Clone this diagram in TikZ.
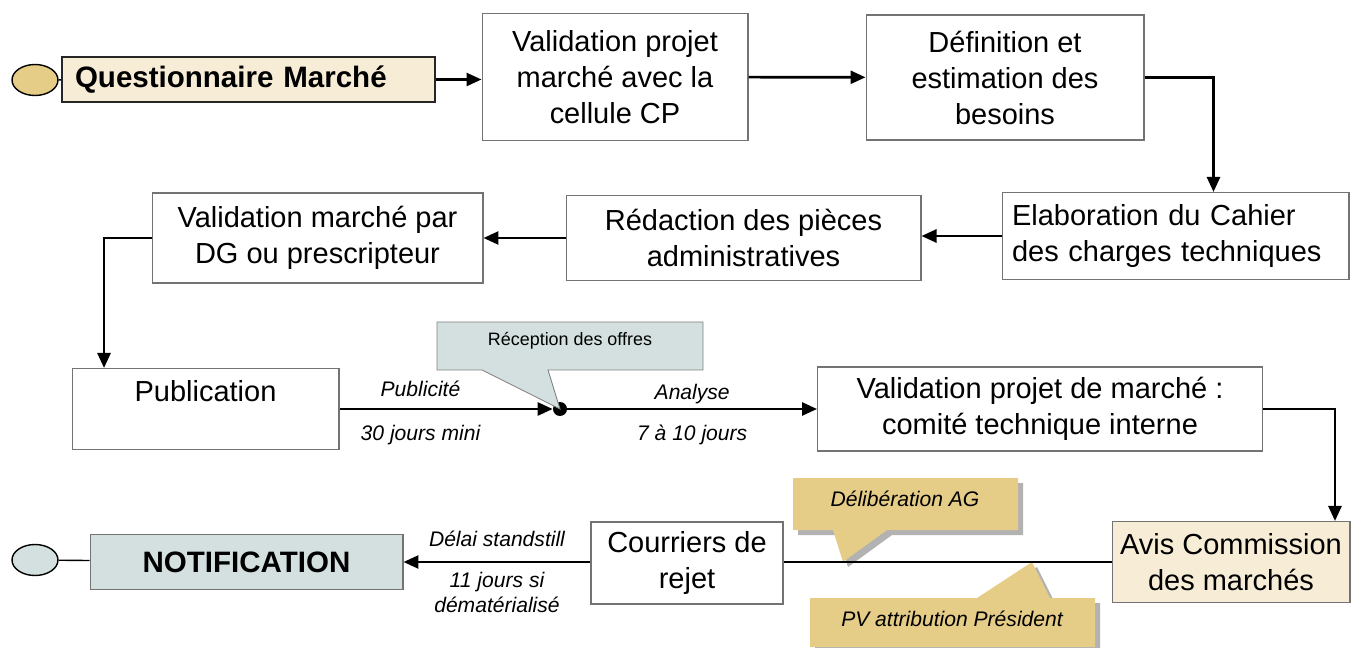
\documentclass[tikz,border=0pt]{standalone}
\usepackage{fontspec}
\setmainfont{Liberation Sans}
\usetikzlibrary{shapes.geometric, positioning, arrows.meta}

\definecolor{ocre}{HTML}{E5CC87}
\definecolor{creme}{HTML}{F7EDD7}
\definecolor{glauque}{HTML}{D3E0DF}

\begin{document}
\begin{tikzpicture}[x=0.02cm, y=-0.02cm,
	every node/.style={font=\fontsize{16.5}{20.5}\selectfont},
	etape/.style={rectangle, draw=black!55, line width=0.6pt, fill=white, align=center, inner sep=2pt},
	debut/.style={ellipse, draw, line width=0.8pt, minimum width=0.92cm, minimum height=0.62cm, inner sep=0pt},
	lbl/.style={font=\itshape\fontsize{12}{14.2}\selectfont, align=center},
	bulle/.style={font=\fontsize{10.2}{12}\selectfont},
	arr/.style={->, line width=1.5pt, >={Triangle[length=0.3cm, width=0.26cm]}}
	]

\useasboundingbox (0,0) rectangle (1352,648);

% premiere ligne
\node[debut, fill=ocre] (debut) at (35,80) {};
\node[etape, draw=black!85, line width=0.9pt, fill=creme, minimum width=7.46cm, minimum height=0.9cm, text width=6.94cm, align=left, font=\bfseries\fontsize{16.8}{20}\selectfont] (quest) at (248.5,79.5) {Questionnaire Marché};
\node[etape, minimum width=5.32cm, minimum height=2.54cm] (valcp) at (615,77) {Validation projet\\marché avec la\\cellule CP};
\node[etape, minimum width=5.56cm, minimum height=2.5cm] (besoins) at (1005,77.5) {Définition et\\estimation des\\besoins};

% deuxieme ligne
\node[etape, minimum width=6.94cm, minimum height=1.74cm, text width=6.54cm, align=left] (cahier) at (1175.5,236) {Elaboration du Cahier\\des charges techniques};
\node[etape, minimum width=7.1cm, minimum height=1.7cm] (pieces) at (743.5,238) {Rédaction des pièces\\administratives};
\node[etape, minimum width=6.62cm, minimum height=1.8cm] (valdg) at (317.5,238) {Validation marché par\\DG ou prescripteur};

% troisieme ligne
\node[etape, minimum width=5.34cm, minimum height=1.62cm] (publi) at (205.5,409) {Publication\\~};
\node[circle, fill, inner sep=0pt, minimum size=0.28cm] (offres) at (560,409) {};
\node[etape, minimum width=8.9cm, minimum height=1.68cm] (comite) at (1040,409) {Validation projet de marché :\\comité technique interne};

% quatrieme ligne
\node[etape, fill=creme, minimum width=4.76cm, minimum height=1.62cm] (avis) at (1231,562) {Avis Commission\\des marchés};
\node[etape, minimum width=3.84cm, minimum height=1.64cm] (rejet) at (687,563) {Courriers de\\rejet};
\node[etape, fill=glauque, minimum width=6.26cm, minimum height=1.1cm, font=\bfseries\fontsize{16.8}{20}\selectfont] (notif) at (246.5,562) {NOTIFICATION};
\node[debut, fill=glauque] (fin) at (35,560) {};

% bulles
\draw[draw=black!50, line width=0.5pt, fill=glauque]
	(437,322) -- (703,322) -- (703,370) -- (548,370) -- (offres.center) -- (482,370) -- (437,370) -- cycle;
\node[bulle] (recep) at (570,341) {Réception des offres};

\fill[black!30] (798,483) -- (1023,483) -- (1023,535) -- (892,535) -- (848,567) -- (838,535) -- (798,535) -- cycle;
\fill[ocre] (793,478) -- (1018,478) -- (1018,530) -- (887,530) -- (843,562) -- (833,530) -- (793,530) -- cycle;
\node[lbl] (delib) at (905,499) {Délibération AG};

\fill[black!30] (815,603) -- (982,603) -- (1037,567) -- (1055,603) -- (1100,603) -- (1100,652) -- (815,652) -- cycle;
\fill[ocre] (810,598) -- (977,598) -- (1032,562) -- (1050,598) -- (1095,598) -- (1095,647) -- (810,647) -- cycle;
\node[lbl] (pv) at (952,619) {PV attribution Président};

% liaisons
\draw[line width=0.8pt] (debut) -- (quest);
\draw[line width=0.8pt] (fin) -- (notif);
\draw[arr] (quest.east) -- (quest.east -| valcp.west);
\draw[arr] (valcp) -- (besoins);
\draw[arr] (besoins.east) -| ([xshift=0.76cm]cahier.north);
\draw[arr] (cahier) -- (cahier -| pieces.east);
\draw[arr] (pieces) -- (valdg);
\draw[arr] (valdg.west) -| ([xshift=-2.03cm]publi.north);
\draw[arr] (publi) -- (offres)
	node[lbl, above=3pt, pos=0.38] (publicite) {Publicité}
	node[lbl, below=5pt, pos=0.38] (trente) {30 jours mini};
\draw[arr] (offres) -- (comite)
	node[lbl, above=-1pt, midway] (analyse) {Analyse}
	node[lbl, below=5pt, midway] (sept) {7 à 10 jours};
\draw[arr] (comite.east) -| ([xshift=2.08cm]avis.north);
\draw[line width=1.5pt] (avis) -- (avis -| rejet.east);
\draw[arr] (rejet.west |- avis) -- (notif.east |- avis)
	node[lbl, above=4.5pt, midway] (delai) {Délai standstill}
	node[lbl, below=2pt, midway] (onze) {11 jours si\\dématérialisé};

\end{tikzpicture}
\end{document}
